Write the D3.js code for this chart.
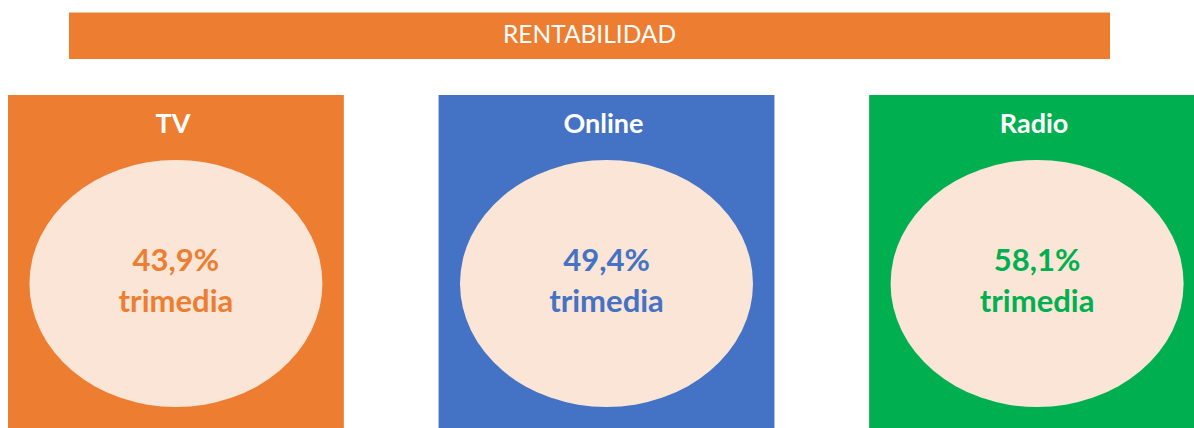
<!DOCTYPE html>
<html>
<head>
<meta charset="utf-8">
<script src="https://cdn.jsdelivr.net/npm/d3@7"></script>
<style>
    html, body { margin: 0; padding: 0; background: #fff; }
    svg { display: block; font-family: Lato, "Open Sans", sans-serif; }
</style>
</head>
<body>
<div id="chart"></div>
<script>
"use strict";

const title = 'RENTABILIDAD';
const categories = ['TV', 'Online', 'Radio'];
const values = [43.9, 49.4, 58.1];
const subLabel = 'trimedia';

const palette = ['#ED7D31', '#4472C4', '#00B050'];
const ellipseFill = '#FBE5D6';

const width = 1194;
const height = 428;

const svg = d3.select('#chart')
    .append('svg')
    .attr('width', width)
    .attr('height', height);

const color = d3.scaleOrdinal()
    .domain(categories)
    .range(palette);

const x = d3.scaleBand()
    .domain(categories)
    .range([8, 1205])
    .paddingInner(0.22);

const formatValue = v => d3.format('.1f')(v).replace('.', ',') + '%';

// ------------------------- Title bar -------------------------

svg.append('rect')
    .attr('x', 69)
    .attr('y', 12.5)
    .attr('width', 1041)
    .attr('height', 46.5)
    .attr('fill', palette[0]);

svg.append('text')
    .attr('x', 589.5)
    .attr('y', 43)
    .attr('text-anchor', 'middle')
    .attr('fill', '#fff')
    .style('font-size', '24.5px')
    .text(title);

// ------------------------- Panels -------------------------

const panels = svg.selectAll('.panel')
    .data(categories.map((name, i) => ({ name, value: values[i] })))
    .enter()
    .append('g')
    .classed('panel', true)
    .attr('transform', d => `translate(${x(d.name)},0)`);

panels.append('rect')
    .attr('y', 95)
    .attr('width', x.bandwidth())
    .attr('height', height - 95)
    .attr('fill', d => color(d.name));

panels.append('text')
    .attr('x', x.bandwidth() / 2 - 3)
    .attr('y', 133)
    .attr('text-anchor', 'middle')
    .attr('fill', '#fff')
    .style('font-size', '27px')
    .style('font-weight', 'bold')
    .text(d => d.name);

panels.append('ellipse')
    .attr('cx', x.bandwidth() / 2)
    .attr('cy', 283.5)
    .attr('rx', 146.5)
    .attr('ry', 123.5)
    .attr('fill', ellipseFill);

panels.append('text')
    .attr('x', x.bandwidth() / 2)
    .attr('y', 271)
    .attr('text-anchor', 'middle')
    .attr('fill', d => color(d.name))
    .style('font-size', '31px')
    .style('font-weight', 'bold')
    .text(d => formatValue(d.value));

panels.append('text')
    .attr('x', x.bandwidth() / 2)
    .attr('y', 312)
    .attr('text-anchor', 'middle')
    .attr('fill', d => color(d.name))
    .style('font-size', '31px')
    .style('font-weight', 'bold')
    .text(subLabel);
</script>
</body>
</html>
